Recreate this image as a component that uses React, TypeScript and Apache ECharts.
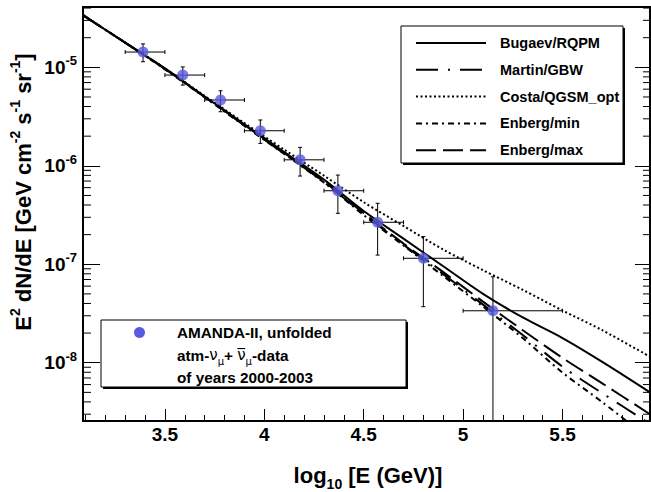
import React, { useEffect, useRef } from 'react';
import * as echarts from 'echarts';

// ---- data ----
const binCenters = [3.39, 3.59, 3.78, 3.98, 4.18, 4.37, 4.57, 4.80, 5.15];
const binLow = [3.3, 3.5, 3.7, 3.9, 4.1, 4.3, 4.5, 4.7, 5.0];
const binHigh = [3.5, 3.7, 3.9, 4.1, 4.3, 4.5, 4.7, 5.0, 5.5];
const fluxValues = [1.43e-5, 8.35e-6, 4.66e-6, 2.27e-6, 1.15e-6, 5.58e-7, 2.67e-7, 1.15e-7, 3.37e-8];
const fluxUpper = [1.73e-5, 1.01e-5, 5.78e-6, 2.92e-6, 1.54e-6, 8.05e-7, 4.16e-7, 1.91e-7, 7.46e-8];
const fluxLower = [1.14e-5, 6.6e-6, 3.54e-6, 1.69e-6, 7.87e-7, 3.29e-7, 1.24e-7, 3.71e-8, 1e-10];

const modelLogE = [3.088, 3.3, 3.5, 3.7, 3.9, 4.1, 4.3, 4.5, 4.7, 4.9, 5.1, 5.3, 5.5, 5.7, 5.94];
const bugaevRQPM = [3.39e-5, 1.78e-5, 9.77e-6, 5.05e-6, 2.64e-6, 1.38e-6, 7.23e-7, 3.47e-7, 1.82e-7, 9.55e-8, 5.01e-8, 2.88e-8, 1.78e-8, 1.02e-8, 5.0e-9];
const martinGBW = [3.39e-5, 1.78e-5, 9.66e-6, 5.01e-6, 2.57e-6, 1.33e-6, 6.84e-7, 3.24e-7, 1.58e-7, 7.94e-8, 3.89e-8, 1.91e-8, 9.12e-9, 4.9e-9, 2.4e-9];
const costaQGSM = [3.39e-5, 1.78e-5, 9.77e-6, 5.13e-6, 2.72e-6, 1.46e-6, 7.94e-7, 4.27e-7, 2.45e-7, 1.41e-7, 8.71e-8, 5.5e-8, 3.39e-8, 2.14e-8, 1.15e-8];
const enbergMin = [3.39e-5, 1.78e-5, 9.55e-6, 4.95e-6, 2.54e-6, 1.32e-6, 6.76e-7, 3.16e-7, 1.55e-7, 7.59e-8, 3.72e-8, 1.78e-8, 7.94e-9, 3.98e-9, 1.66e-9];
const enbergMax = [3.39e-5, 1.78e-5, 9.66e-6, 5.01e-6, 2.6e-6, 1.35e-6, 6.92e-7, 3.31e-7, 1.62e-7, 8.32e-8, 4.17e-8, 2.14e-8, 1.12e-8, 6.17e-9, 3.0e-9];

const modelNames = ['Bugaev/RQPM', 'Martin/GBW', 'Costa/QGSM_opt', 'Enberg/min', 'Enberg/max'];
const modelSeries = [bugaevRQPM, martinGBW, costaQGSM, enbergMin, enbergMax];
const modelDash: any[] = ['solid', [22, 10, 2, 10], [2, 2.5], [6, 4, 2, 4], [20, 7]];

const minorTickMultipliers = [2, 3, 4, 5, 6, 7, 8, 9];
const tickDecades = [-9, -8, -7, -6, -5];

const X_MIN = 3.088;
const X_MAX = 5.94;
const Y_MIN = 2.56e-9;
const Y_MAX = 4.1e-5;

const FONT = '"Liberation Sans", Arial, Helvetica, sans-serif';

export default function App() {
  const ref = useRef<HTMLDivElement>(null);

  useEffect(() => {
    if (!ref.current) return;
    const chart = echarts.init(ref.current, null, { renderer: 'svg' });

    const minorTicks: number[][] = [];
    tickDecades.forEach((n) => {
      minorTickMultipliers.forEach((k) => {
        const v = k * Math.pow(10, n);
        if (v > Y_MIN && v < Y_MAX) minorTicks.push([X_MIN, v]);
      });
    });

    const lineSeries = modelNames.map((name, i) => ({
      type: 'line',
      name,
      data: modelLogE.map((x, j) => [x, modelSeries[i][j]]),
      showSymbol: false,
      symbol: 'none',
      smooth: 0.3,
      clip: true,
      z: 2,
      lineStyle: { color: '#000', width: 2, type: modelDash[i] },
      itemStyle: { color: '#000', opacity: 0 },
      emphasis: { disabled: true },
    }));

    const yLabelFormatter = (v: number) => {
      const e = Math.log10(v);
      const r = Math.round(e);
      if (Math.abs(e - r) > 1e-6) return '';
      return `{b|10}{s|${r}}`;
    };

    const option: any = {
      animation: false,
      textStyle: { fontFamily: FONT },
      grid: {
        left: 83, right: 1, top: 7, bottom: 71,
        show: true, borderColor: '#000', borderWidth: 2, backgroundColor: 'transparent',
        containLabel: false, outerBoundsMode: 'none',
      },
      xAxis: [{
        type: 'value', min: X_MIN, max: X_MAX, minInterval: 0.5, maxInterval: 0.5,
        axisLine: { show: true, onZero: false, lineStyle: { color: '#000', width: 2 } },
        axisTick: { show: true, inside: true, length: 12, lineStyle: { color: '#000', width: 1 } },
        minorTick: { show: true, splitNumber: 5, length: 6, lineStyle: { color: '#000', width: 1 } },
        splitLine: { show: false },
        minorSplitLine: { show: false },
        axisLabel: {
          margin: 4, color: '#000', fontSize: 19, fontWeight: 'bold', fontFamily: FONT, interval: 0,
          formatter: (v: number) => (Math.abs(v * 2 - Math.round(v * 2)) < 1e-6 ? String(v) : ''),
        },
      }],
      yAxis: [
        {
          type: 'log', logBase: 10, min: Y_MIN, max: Y_MAX,
          axisLine: { show: true, onZero: false, lineStyle: { color: '#000', width: 2 } },
          axisTick: { show: true, inside: true, length: 17, lineStyle: { color: '#000', width: 1 } },
          splitLine: { show: false },
          axisLabel: {
            margin: 6, color: '#000', fontFamily: FONT, interval: 0,
            formatter: yLabelFormatter,
            rich: {
              b: { fontSize: 19, fontWeight: 'bold', fontFamily: FONT, color: '#000', lineHeight: 26 },
              s: { fontSize: 13, fontWeight: 'bold', fontFamily: FONT, color: '#000', lineHeight: 13, verticalAlign: 'top' },
            },
          },
        },
        {
          type: 'log', logBase: 10, min: Y_MIN, max: Y_MAX, position: 'right',
          axisLine: { show: true, onZero: false, lineStyle: { color: '#000', width: 1 } },
          axisTick: { show: true, inside: true, length: 15, lineStyle: { color: '#000', width: 1 } },
          splitLine: { show: false },
          axisLabel: { show: false },
        },
      ],
      legend: {
        data: modelNames,
        orient: 'vertical',
        left: 415, top: 35,
        padding: 0,
        itemWidth: 70, itemHeight: 16, itemGap: 10.8,
        selectedMode: false,
        z: 6,
        itemStyle: { opacity: 0 },
        textStyle: { fontSize: 14.5, fontWeight: 'bold', color: '#000', fontFamily: FONT, lineHeight: 16, padding: [0, 0, 0, 9] },
      },
      graphic: [
        { type: 'rect', z: 3, shape: { x: 403, y: 28, width: 222, height: 137 }, style: { fill: '#000' } },
        { type: 'rect', z: 3, shape: { x: 401, y: 26, width: 222, height: 137 }, style: { fill: '#fff', stroke: '#000', lineWidth: 1 } },
        { type: 'rect', z: 3, shape: { x: 103, y: 322, width: 305, height: 67 }, style: { fill: '#000' } },
        { type: 'rect', z: 3, shape: { x: 101, y: 320, width: 305, height: 67 }, style: { fill: '#fff', stroke: '#000', lineWidth: 1 } },
        { type: 'circle', z: 4, shape: { cx: 139.5, cy: 332.5, r: 5.5 }, style: { fill: '#5a5ae0' } },
        {
          type: 'text', z: 4, x: 177, y: 355,
          style: {
            text: '{b|AMANDA-II, unfolded}\n{b|atm-}{n|\u03bd}{s|\u03bc}{b|+ }{n|\u03bd\u0305}{s|\u03bc}{b|-data}\n{b|of years 2000-2003}',
            align: 'left', verticalAlign: 'middle',
            rich: {
              b: { fontSize: 15.3, fontWeight: 'bold', fontFamily: FONT, fill: '#000', lineHeight: 22.5 },
              n: { fontSize: 15, fontWeight: 'normal', fontFamily: '"DejaVu Sans", sans-serif', fill: '#000', lineHeight: 22.5 },
              s: { fontSize: 10, fontWeight: 'normal', fontFamily: '"DejaVu Sans", sans-serif', fill: '#000', lineHeight: 10, verticalAlign: 'bottom' },
            },
          },
        },
        {
          type: 'text', z: 4, x: 368, y: 477.5,
          style: {
            text: '{b|log}{sub|10}{b| [E (GeV)]}',
            align: 'center', verticalAlign: 'middle',
            rich: {
              b: { fontSize: 22, fontWeight: 'bold', fontFamily: FONT, fill: '#000', lineHeight: 22, verticalAlign: 'top' },
              sub: { fontSize: 14, fontWeight: 'bold', fontFamily: FONT, fill: '#000', lineHeight: 27, padding: [13, 0, 0, 0], verticalAlign: 'top' },
            },
          },
        },
        {
          type: 'text', z: 4, x: 23, y: 192, rotation: Math.PI / 2,
          style: {
            text: '{b|E}{sup|2}{b| dN/dE [GeV cm}{sup|-2}{b| s}{sup|-1}{b| sr}{sup|-1}{b|]}',
            align: 'center', verticalAlign: 'middle',
            rich: {
              b: { fontSize: 22, fontWeight: 'bold', fontFamily: FONT, fill: '#000', lineHeight: 30 },
              sup: { fontSize: 14, fontWeight: 'bold', fontFamily: FONT, fill: '#000', lineHeight: 14, verticalAlign: 'top' },
            },
          },
        },
      ],
      series: [
        ...lineSeries,
        {
          type: 'custom',
          name: 'minor ticks',
          xAxisIndex: 0, yAxisIndex: 0,
          clip: true,
          z: 1,
          silent: true,
          data: minorTicks,
          encode: { x: 0, y: 1 },
          renderItem: (params: any, api: any) => {
            const p = api.coord([api.value(0), api.value(1)]);
            const cs = params.coordSys;
            return {
              type: 'group',
              children: [
                { type: 'line', shape: { x1: cs.x, y1: p[1], x2: cs.x + 8, y2: p[1] }, style: { stroke: '#000', lineWidth: 1 } },
                { type: 'line', shape: { x1: cs.x + cs.width - 7, y1: p[1], x2: cs.x + cs.width, y2: p[1] }, style: { stroke: '#000', lineWidth: 1 } },
              ],
            };
          },
        },
        {
          type: 'custom',
          name: 'AMANDA errors',
          xAxisIndex: 0, yAxisIndex: 0,
          clip: true,
          z: 4,
          silent: true,
          data: binCenters.map((x, i) => [x, fluxValues[i], binLow[i], binHigh[i], fluxLower[i], fluxUpper[i]]),
          encode: { x: 0, y: 1 },
          renderItem: (params: any, api: any) => {
            const c = api.coord([api.value(0), api.value(1)]);
            const l = api.coord([api.value(2), api.value(1)]);
            const r = api.coord([api.value(3), api.value(1)]);
            const lo = api.coord([api.value(0), api.value(4)]);
            const hi = api.coord([api.value(0), api.value(5)]);
            const st = { stroke: '#000', lineWidth: 1 };
            const cap = 2;
            return {
              type: 'group',
              children: [
                { type: 'line', shape: { x1: l[0], y1: c[1], x2: r[0], y2: c[1] }, style: st },
                { type: 'line', shape: { x1: c[0], y1: lo[1], x2: c[0], y2: hi[1] }, style: st },
                { type: 'line', shape: { x1: l[0], y1: c[1] - cap, x2: l[0], y2: c[1] + cap }, style: st },
                { type: 'line', shape: { x1: r[0], y1: c[1] - cap, x2: r[0], y2: c[1] + cap }, style: st },
                { type: 'line', shape: { x1: c[0] - cap, y1: lo[1], x2: c[0] + cap, y2: lo[1] }, style: st },
                { type: 'line', shape: { x1: c[0] - cap, y1: hi[1], x2: c[0] + cap, y2: hi[1] }, style: st },
              ],
            };
          },
        },
        {
          type: 'scatter',
          name: 'AMANDA-II, unfolded',
          data: binCenters.map((x, i) => [x, fluxValues[i]]),
          symbol: 'circle',
          symbolSize: 11,
          itemStyle: { color: '#5a5ae0' },
          z: 5,
          emphasis: { disabled: true },
        },
      ],
    };

    chart.setOption(option);
    return () => chart.dispose();
  }, []);

  return <div ref={ref} style={{ position: 'absolute', left: 0, top: 0, width: 651, height: 492 }} />;
}
